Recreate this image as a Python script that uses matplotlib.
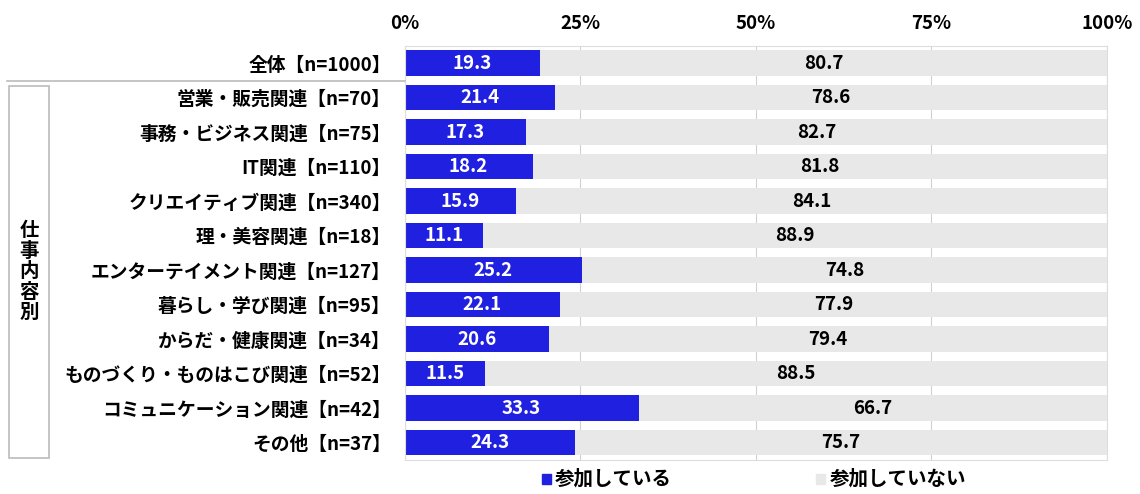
import numpy as np
import matplotlib.pyplot as plt
from matplotlib.patches import Rectangle
from matplotlib.lines import Line2D

plt.rcParams['font.family'] = ['Noto Sans CJK JP', 'DejaVu Sans']

# データ
categories = ['全体【n=1000】', '営業・販売関連【n=70】', '事務・ビジネス関連【n=75】',
              'IT関連【n=110】', 'クリエイティブ関連【n=340】', '理・美容関連【n=18】',
              'エンターテイメント関連【n=127】', '暮らし・学び関連【n=95】',
              'からだ・健康関連【n=34】', 'ものづくり・ものはこび関連【n=52】',
              'コミュニケーション関連【n=42】', 'その他【n=37】']
joined = [19.3, 21.4, 17.3, 18.2, 15.9, 11.1, 25.2, 22.1, 20.6, 11.5, 33.3, 24.3]
not_joined = [80.7, 78.6, 82.7, 81.8, 84.1, 88.9, 74.8, 77.9, 79.4, 88.5, 66.7, 75.7]
series_names = ['参加している', '参加していない']
xticks = [0, 25, 50, 75, 100]

blue = '#2020e0'
grey = '#e8e8e8'

fig = plt.figure(figsize=(11.4, 4.94), dpi=100)
ax = fig.add_axes([0.355, 0.069, 0.616, 0.838])

y = np.arange(len(categories))
h = 0.74
ax.barh(y, joined, height=h, color=blue, zorder=2)
ax.barh(y, not_joined, left=joined, height=h, color=grey, zorder=2)

for i in range(len(categories)):
    ax.text(joined[i] / 2, y[i], f'{joined[i]:.1f}', ha='center', va='center',
            color='white', fontsize=13.5, fontweight='bold', zorder=3)
    ax.text(joined[i] + not_joined[i] / 2, y[i], f'{not_joined[i]:.1f}', ha='center',
            va='center', color='black', fontsize=13.5, fontweight='bold', zorder=3)

ax.set_xlim(0, 100)
ax.set_ylim(len(categories) - 0.5, -0.5)
ax.set_xticks(xticks)
ax.set_xticklabels([f'{t}%' for t in xticks], fontsize=13.5, fontweight='bold')
ax.xaxis.tick_top()
ax.tick_params(axis='x', length=0, pad=9)
ax.set_yticks(y)
ax.set_yticklabels(categories, fontsize=13.5, fontweight='bold')
ax.tick_params(axis='y', length=0, pad=10)
ax.grid(axis='x', color='#d0d0d0', linewidth=0.8, zorder=0)
for s in ax.spines.values():
    s.set_color('#dddddd')
    s.set_linewidth(0.8)

# 区切り線と「仕事内容別」の枠
fig.add_artist(Line2D([0.006, 0.355], [0.836, 0.836], color='#bbbbbb', linewidth=1.2))
fig.add_artist(Rectangle((0.008, 0.073), 0.035, 0.752, fill=False,
                         edgecolor='#bbbbbb', linewidth=1.2))
fig.text(0.0255, 0.45, '仕\n事\n内\n容\n別', ha='center', va='center',
         fontsize=14, fontweight='bold', linespacing=1.1)

# 凡例
fig.add_artist(Rectangle((0.475, 0.02), 0.008, 0.02, color=blue))
fig.text(0.487, 0.03, series_names[0], ha='left', va='center', fontsize=14, fontweight='bold')
fig.add_artist(Rectangle((0.716, 0.02), 0.008, 0.02, color=grey))
fig.text(0.728, 0.03, series_names[1], ha='left', va='center', fontsize=14, fontweight='bold')

fig.savefig('out.png', dpi=100)
